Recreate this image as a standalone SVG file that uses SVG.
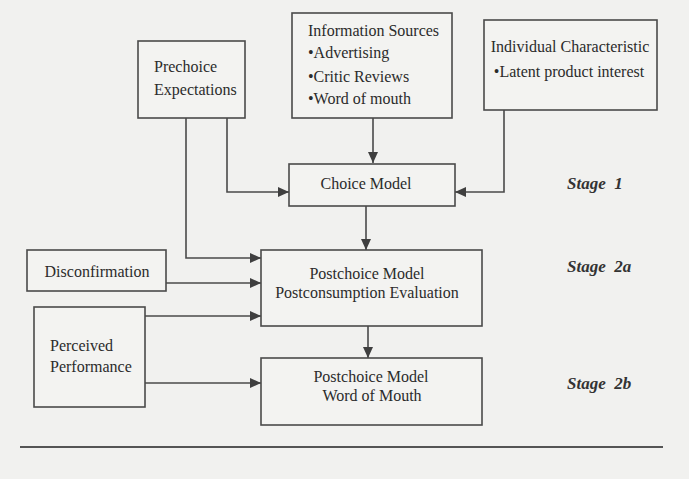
<svg xmlns="http://www.w3.org/2000/svg" width="689" height="479" viewBox="0 0 689 479">
<defs>
<style>
.box{fill:#f3f3f1;stroke:#4a4a4a;stroke-width:1.6}
.t{font-family:"Liberation Serif","Times New Roman",serif;font-size:16px;fill:#2b2b2b}
.c{text-anchor:middle}
.st{font-family:"Liberation Serif","Times New Roman",serif;font-size:17px;font-weight:bold;font-style:italic;fill:#333;white-space:pre}
.ln{fill:none;stroke:#4a4a4a;stroke-width:1.6}
</style>
<marker id="ah" markerUnits="userSpaceOnUse" markerWidth="12" markerHeight="10" refX="11" refY="5" orient="auto">
<path d="M0,0 L11,5 L0,10 z" fill="#3f3f3f"/>
</marker>
</defs>
<rect x="0" y="0" width="689" height="479" fill="#f1f1ef"/>
<g id="connectors">
<path class="ln" d="M227,118 V192 H289" marker-end="url(#ah)"/>
<path class="ln" d="M186,118 V258 H261" marker-end="url(#ah)"/>
<path class="ln" d="M373,118 V163" marker-end="url(#ah)"/>
<path class="ln" d="M504,110 V192 H455" marker-end="url(#ah)"/>
<path class="ln" d="M366,206 V250" marker-end="url(#ah)"/>
<path class="ln" d="M166,283 H261" marker-end="url(#ah)"/>
<path class="ln" d="M145,316 H261" marker-end="url(#ah)"/>
<path class="ln" d="M145,383 H261" marker-end="url(#ah)"/>
<path class="ln" d="M368,326 V358" marker-end="url(#ah)"/>
</g>
<g id="prechoice">
<rect class="box" x="138" y="41" width="107" height="77"/>
<text class="t" x="154" y="72">Prechoice</text>
<text class="t" x="154" y="95">Expectations</text>
</g>
<g id="info-sources">
<rect class="box" x="292" y="13" width="160" height="105"/>
<text class="t" x="308" y="36">Information Sources</text>
<text class="t" x="308" y="58">•Advertising</text>
<text class="t" x="308" y="82">•Critic Reviews</text>
<text class="t" x="308" y="104">•Word of mouth</text>
</g>
<g id="individual">
<rect class="box" x="484" y="20" width="173" height="90"/>
<text class="t c" x="570" y="52">Individual Characteristic</text>
<text class="t c" x="569" y="77">•Latent product interest</text>
</g>
<g id="choice-model">
<rect class="box" x="289" y="164" width="166" height="42"/>
<text class="t c" x="366" y="189">Choice Model</text>
</g>
<g id="disconfirmation">
<rect class="box" x="27" y="250" width="139" height="41"/>
<text class="t c" x="97" y="277">Disconfirmation</text>
</g>
<g id="post-eval">
<rect class="box" x="261" y="250" width="221" height="76"/>
<text class="t c" x="367" y="279">Postchoice Model</text>
<text class="t c" x="367" y="298">Postconsumption Evaluation</text>
</g>
<g id="perceived">
<rect class="box" x="34" y="307" width="111" height="100"/>
<text class="t" x="50" y="351">Perceived</text>
<text class="t" x="50" y="372">Performance</text>
</g>
<g id="post-wom">
<rect class="box" x="261" y="358" width="221" height="67"/>
<text class="t c" x="371" y="382">Postchoice Model</text>
<text class="t c" x="372" y="401">Word of Mouth</text>
</g>
<g id="stages">
<text class="st" x="567" y="189">Stage  1</text>
<text class="st" x="567" y="272">Stage  2a</text>
<text class="st" x="567" y="389">Stage  2b</text>
</g>
<path d="M20,447 H663" stroke="#555" stroke-width="1.8"/>
</svg>
